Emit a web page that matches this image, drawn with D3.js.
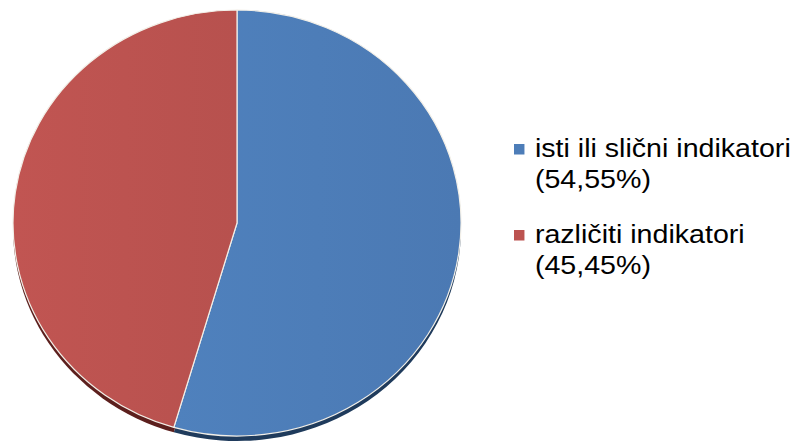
<!DOCTYPE html>
<html>
<head>
<meta charset="utf-8">
<script src="https://cdn.jsdelivr.net/npm/d3@7"></script>
<style>
  body { margin: 0; background: #fff; }
  svg { display: block; }
  text { font-family: "Liberation Sans", Arial, sans-serif; fill: #000; }
</style>
</head>
<body>
<svg id="chart" width="793" height="447"></svg>
<script>
// chart data
const categories = ["isti ili slični indikatori", "različiti indikatori"];
const shares = [54.55, 45.45];
const shareLabels = ["(54,55%)", "(45,45%)"];
const colors = ["#4d7db8", "#bc5350"];
const sideColors = ["#1f3b5c", "#5c1f1d"];

var svg = d3.select("#chart"),
    width = +svg.attr("width"),
    height = +svg.attr("height");

var cx = 237, cy = 223, rx = 224, ry = 213, depth = 5;

var pie = d3.pie().sort(null).value(function (d) { return d; });
var arcs = pie(shares);
var arc = d3.arc().innerRadius(0).outerRadius(rx);

var defs = svg.append("defs");
colors.forEach(function (c, i) {
  var g = defs.append("linearGradient").attr("id", "grad" + i)
    .attr("x1", "0%").attr("x2", "100%").attr("y1", "0%").attr("y2", "0%");
  g.append("stop").attr("offset", "0%").attr("stop-color", d3.color(c).brighter(0.08));
  g.append("stop").attr("offset", "50%").attr("stop-color", c);
  g.append("stop").attr("offset", "100%").attr("stop-color", d3.color(c).darker(0.08));
});

// extruded side of the pie
var sideG = svg.append("g")
  .attr("transform", "translate(" + cx + "," + (cy + depth) + ") scale(1," + (ry / rx) + ")");
sideG.selectAll("path").data(arcs).enter().append("path")
  .attr("d", arc)
  .attr("fill", function (d, i) { return sideColors[i]; });

var faceG = svg.append("g")
  .attr("transform", "translate(" + cx + "," + cy + ") scale(1," + (ry / rx) + ")");
faceG.selectAll("path").data(arcs).enter().append("path")
  .attr("d", arc)
  .attr("fill", function (d, i) { return "url(#grad" + i + ")"; })
  .attr("stroke", "#f2efe8")
  .attr("stroke-width", 1.2)
  .attr("vector-effect", "non-scaling-stroke")
  .attr("stroke-linejoin", "round");

// legend
var legendY = [157, 243];
var legend = svg.append("g").attr("transform", "translate(514,0) scale(1.1,1)");
var items = legend.selectAll("g").data(categories).enter().append("g")
  .attr("transform", function (d, i) { return "translate(0," + legendY[i] + ")"; });
items.append("rect")
  .attr("x", 0).attr("y", -13).attr("width", 9.5).attr("height", 10.5)
  .attr("fill", function (d, i) { return colors[i]; });
items.append("text")
  .attr("x", 19).attr("y", 0)
  .style("font-size", "26px")
  .text(function (d) { return d; });
items.append("text")
  .attr("x", 19).attr("y", 31)
  .style("font-size", "26px")
  .text(function (d, i) { return shareLabels[i]; });
</script>
</body>
</html>
